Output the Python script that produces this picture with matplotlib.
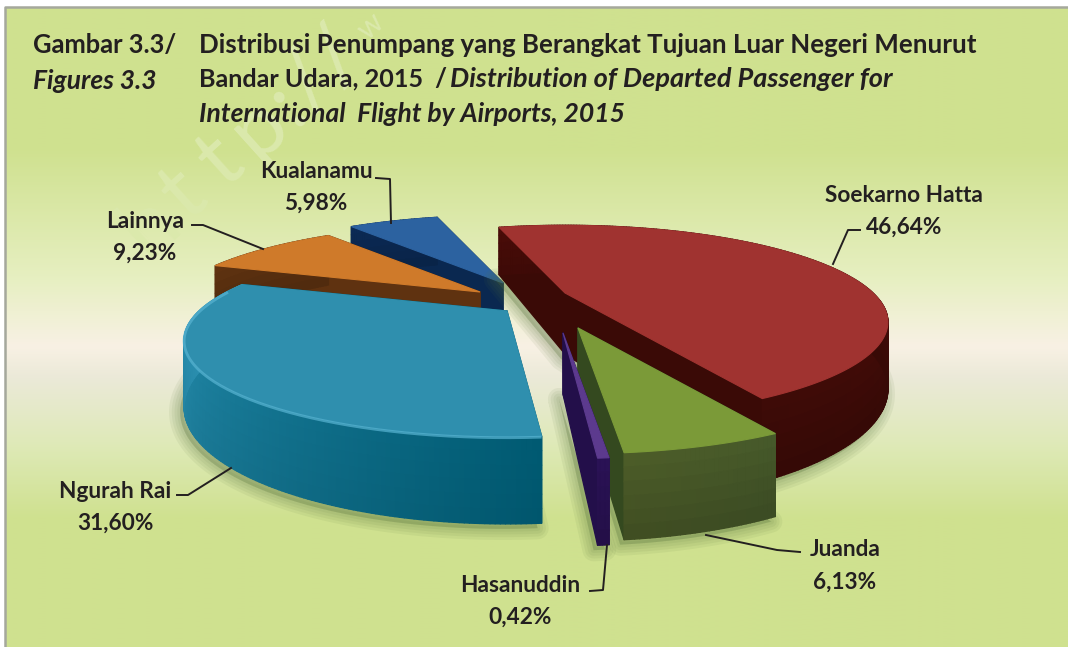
import numpy as np
import matplotlib
matplotlib.use('Agg')
import matplotlib.pyplot as plt
from matplotlib.collections import PolyCollection
from matplotlib.colors import to_rgb, LinearSegmentedColormap
from matplotlib.patches import Polygon

# chart values
airports = ['Soekarno Hatta', 'Juanda', 'Hasanuddin', 'Ngurah Rai', 'Lainnya', 'Kualanamu']
shares = [46.64, 6.13, 0.42, 31.60, 9.23, 5.98]
share_labels = ['46,64%', '6,13%', '0,42%', '31,60%', '9,23%', '5,98%']

# styles, same order as airports
top_colors = ['#a03330', '#7b9a38', '#5c3a8e', '#2f8fae', '#cf7a2a', '#2c62a0']
wall_left = ['#3e0b07', '#4c5c28', '#2a1255', '#35a0c4', '#5f3210', '#0b2a55']
wall_right = ['#4a0c08', '#46592a', '#2a1255', '#005a72', '#5f3210', '#0b2a55']
edge_colors = ['#3a0a06', '#34491f', '#230f4a', '#005a72', '#5f3210', '#0a2850']
apex = [(565, 293), (578, 328), (563, 333), (507, 311), (480, 292), (503, 283)]
draw_order = [5, 4, 0, 1, 2, 3]
label_pos = [(904, 195), (845, 550), (520, 585), (115, 491), (145, 221), (316, 171)]
leaders = [
    [(860, 230), (848, 230), (833, 264)],
    [(800, 552), (777, 550), (706, 535)],
    [(590, 591), (603, 590), (607, 545)],
    [(177, 495), (188, 495), (231, 468)],
    [(192, 225), (203, 225), (263, 249)],
    [(376, 178), (390, 179), (391, 223)],
]

START = -16.0
RX, RY, PERSP, DEPTH = 308.0, 88.0, 0.3, 61.0
TEXT = '#231f20'
FONT = 'Lato'


def project(deg):
    a = np.radians(deg)
    gx, gy = np.sin(a), -np.cos(a)
    s = 1 / (1 - PERSP * gy)
    return RX * gx * s, RY * gy * s, DEPTH * s


def mix(c1, c2, t):
    c1, c2 = np.array(to_rgb(c1)), np.array(to_rgb(c2))
    return tuple(c1 + (c2 - c1) * t)


fig = plt.figure(figsize=(10.68, 6.47), dpi=100)
ax = fig.add_axes([0, 0, 1, 1])

# background panel
grad = LinearSegmentedColormap.from_list('bg', [
    (0.0, '#cfe18f'), (0.22, '#cfe18f'), (0.42, '#e6efc0'), (0.53, '#f8f1e4'),
    (0.58, '#ebe9d8'), (0.68, '#dfeab9'), (0.80, '#cfe18f'), (1.0, '#cfe18f')])
ax.imshow(np.linspace(0, 1, 256).reshape(-1, 1), cmap=grad, aspect='auto',
          extent=[5, 1068, 647, 7], zorder=0)
ax.set_xlim(0, 1068)
ax.set_ylim(647, 0)
ax.axis('off')
ax.plot([5, 5, 1068], [647, 7, 7], color='#a5a89c', lw=1.8, zorder=1)

# watermark
mark = 'http://w'
steps = [45, 50, 52, 36, 30, 38, 46]
mx, my = 150, 225
for i, ch in enumerate(mark):
    if i > 0:
        mx += steps[i - 1] * np.cos(np.radians(42))
        my -= steps[i - 1] * np.sin(np.radians(42))
    ax.text(mx, my, ch, fontsize=62 if ch != 'w' else 22, family=FONT, color='#dbe9ac', rotation=42,
            rotation_mode='anchor', ha='center', va='center', zorder=1)

# slices
ends = np.cumsum([0] + shares) * 3.6 + START
for layer, idx in enumerate(draw_order):
    a0, a1 = ends[idx], ends[idx + 1]
    n = max(8, int((a1 - a0) * 1.5))
    gx, gy, d = project(np.linspace(a0, a1, n))
    ox, oy = apex[idx]
    tx, ty = ox + gx, oy + gy
    z = 3 + layer * 2

    # soft shadow below the wall
    sx = np.r_[ox, tx]
    sy = np.r_[oy + DEPTH, ty + d]
    for lw in [16, 12, 8, 4]:
        ax.add_patch(Polygon(np.c_[sx - 4, sy + 5], closed=True, fc='none', ec='#55703a',
                             lw=lw, alpha=0.08, zorder=z - 1, joinstyle='round'))
        ax.add_patch(Polygon(np.c_[sx - 4, sy + 5], closed=True, fc='#55703a', ec='none',
                             alpha=0.08, zorder=z - 1))

    quads, cols = [], []
    # the two cut edges go first, the round wall sits in front of them
    for (px, py, pd) in [(tx[0], ty[0], d[0]), (tx[-1], ty[-1], d[-1])]:
        quads.append([(ox, oy), (px, py), (px, py + pd), (ox, oy + DEPTH)])
        cols.append(to_rgb(edge_colors[idx]))
    # walls, split in bands so they fade towards the bottom
    bands = 6
    for b in range(bands):
        f0, f1 = b / bands, (b + 1) / bands
        for k in range(n - 1):
            quads.append([(tx[k], ty[k] + d[k] * f0), (tx[k + 1], ty[k + 1] + d[k + 1] * f0),
                          (tx[k + 1], ty[k + 1] + d[k + 1] * f1), (tx[k], ty[k] + d[k] * f1)])
            c = mix(wall_right[idx], wall_left[idx], k / (n - 1))
            cols.append(mix(c, '#000000', 0.18 * f0 if idx != 3 else 0.05 * f0))
    ax.add_collection(PolyCollection(quads, facecolors=cols, edgecolors=cols, linewidths=1.0, zorder=z))

    # top face
    ax.add_patch(Polygon(np.c_[np.r_[ox, tx], np.r_[oy, ty]], closed=True,
                         fc=top_colors[idx], ec=top_colors[idx], lw=0.8, zorder=z + 0.5))
    # lit rim on the front edge of the big blue slice
    if idx == 3:
        ax.plot(tx[:-8], ty[:-8] + 1, color='#58b4d2', lw=2.0, alpha=0.7, zorder=z + 0.6,
                solid_capstyle='butt')

# labels and leader lines
for i in range(len(airports)):
    lx, ly = label_pos[i]
    ax.text(lx, ly, airports[i], fontsize=16.3, family=FONT, weight='bold', color=TEXT,
            ha='center', va='center', zorder=30)
    ax.text(lx, ly + 32, share_labels[i], fontsize=16.3, family=FONT, weight='bold', color=TEXT,
            ha='center', va='center', zorder=30)
    pts = np.array(leaders[i])
    ax.plot(pts[:, 0], pts[:, 1], color=TEXT, lw=1.4, zorder=30)

# title block
ax.text(33, 45, 'Gambar 3.3/', fontsize=18.4, family=FONT, weight='bold', color=TEXT, va='center', zorder=30)
ax.text(33, 81, 'Figures 3.3', fontsize=19, family=FONT, weight='bold', style='italic', color=TEXT, va='center', zorder=30)
ax.text(199, 45, 'Distribusi Penumpang yang Berangkat Tujuan Luar Negeri Menurut', fontsize=18.6,
        family=FONT, weight='bold', color=TEXT, va='center', zorder=30)
ax.text(199, 79, 'Bandar Udara, 2015', fontsize=18.1, family=FONT, weight='bold', color=TEXT, va='center', zorder=30)
ax.text(434, 79, '/', fontsize=18.6, family=FONT, weight='bold', color=TEXT, va='center', zorder=30)
ax.text(450, 79, 'Distribution of Departed Passenger for', fontsize=19.5, family=FONT, weight='bold',
        style='italic', color=TEXT, va='center', zorder=30)
ax.text(199, 114, 'International  Flight by Airports, 2015', fontsize=19.1, family=FONT, weight='bold',
        style='italic', color=TEXT, va='center', zorder=30)

plt.savefig('out.png', dpi=100)
